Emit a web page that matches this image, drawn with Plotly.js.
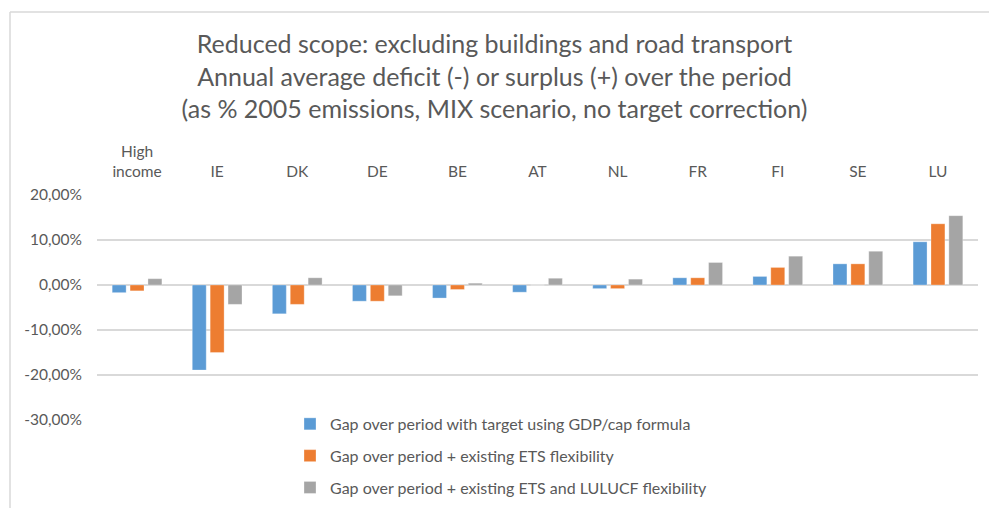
<!DOCTYPE html>
<html>
<head>
<meta charset="utf-8">
<script src="https://cdn.plot.ly/plotly-3.0.1.min.js"></script>
<style>html,body{margin:0;padding:0;background:#fff;}#chart{width:989px;height:508px;}</style>
</head>
<body>
<div id="chart"></div>
<script>
var categories = ["High<br>income", "IE", "DK", "DE", "BE", "AT", "NL", "FR", "FI", "SE", "LU"];
var gapGdp = [-0.017, -0.189, -0.064, -0.036, -0.029, -0.016, -0.008, 0.016, 0.019, 0.047, 0.096];
var gapEts = [-0.013, -0.150, -0.043, -0.036, -0.010, 0.000, -0.008, 0.016, 0.039, 0.047, 0.136];
var gapEtsLulucf = [0.014, -0.043, 0.016, -0.024, 0.004, 0.015, 0.013, 0.050, 0.064, 0.075, 0.154];
var seriesNames = [
  "Gap over period with target using GDP/cap formula",
  "Gap over period + existing ETS flexibility",
  "Gap over period + existing ETS and LULUCF flexibility"
];
var seriesColors = ["#5B9BD5", "#ED7D31", "#A5A5A5"];
var yTicks = [-0.3, -0.2, -0.1, 0, 0.1, 0.2];
var yTickLabels = ["-30,00%", "-20,00%", "-10,00%", "0,00%", "10,00%", "20,00%"];

var font = "Lato, 'Open Sans', sans-serif";
var txt = "#595959";
var allSeries = [gapGdp, gapEts, gapEtsLulucf];
var data = allSeries.map(function (vals, i) {
  return {
    type: "bar",
    x: categories,
    y: vals,
    name: seriesNames[i],
    legendgroup: "g" + i,
    marker: {color: seriesColors[i], line: {color: "rgba(255,255,255,0.6)", width: 0.5}}
  };
});

var layout = {
  width: 989,
  height: 508,
  margin: {l: 97, r: 11, t: 195, b: 88, autoexpand: false},
  paper_bgcolor: "#ffffff",
  plot_bgcolor: "#ffffff",
  separators: ", ",
  font: {family: font, color: txt, size: 14},
  title: {
    text: "Reduced scope: excluding buildings and road transport<br>Annual average deficit (-) or surplus (+) over the period<br>(as % 2005 emissions, MIX scenario, no target correction)",
    font: {family: font, size: 25, color: txt},
    x: 0.5, xref: "container", xanchor: "center",
    y: 1 - 53 / 508, yref: "container", yanchor: "top"
  },
  barmode: "group",
  bargap: 0.33,
  bargroupgap: 0.22,
  xaxis: {
    side: "top",
    type: "category",
    showgrid: false,
    showline: false,
    zeroline: false,
    ticks: "",
    ticklabelstandoff: 14,
    tickfont: {family: font, size: 15.5, color: txt}
  },
  yaxis: {
    range: [-0.3, 0.2],
    tickmode: "array",
    tickvals: yTicks,
    ticktext: yTickLabels,
    showgrid: true,
    gridcolor: "#D9D9D9",
    gridwidth: 1.5,
    zeroline: true,
    zerolinecolor: "#D9D9D9",
    zerolinewidth: 1.5,
    showline: false,
    ticks: "",
    ticklabelstandoff: 14,
    tickfont: {family: font, size: 15.5, color: txt}
  },
  showlegend: true,
  legend: {
    orientation: "v",
    x: (290 - 97) / 881,
    xanchor: "left",
    y: 0.058,
    yanchor: "top",
    tracegroupgap: 8,
    bgcolor: "rgba(255,255,255,0)",
    font: {family: font, size: 16, color: txt},
    itemclick: false
  },
  shapes: [
    {type: "line", xref: "paper", yref: "paper",
     x0: (10 - 97) / 881, x1: 1.1, y0: (420 - 12) / 225, y1: (420 - 12) / 225,
     line: {color: "#D9D9D9", width: 1.5}, layer: "above"},
    {type: "line", xref: "paper", yref: "paper",
     x0: (10 - 97) / 881, x1: (10 - 97) / 881, y0: (420 - 12) / 225, y1: -0.5,
     line: {color: "#D9D9D9", width: 1.5}, layer: "above"}
  ]
};

Plotly.newPlot("chart", data, layout, {displayModeBar: false, staticPlot: true});
</script>
</body>
</html>
